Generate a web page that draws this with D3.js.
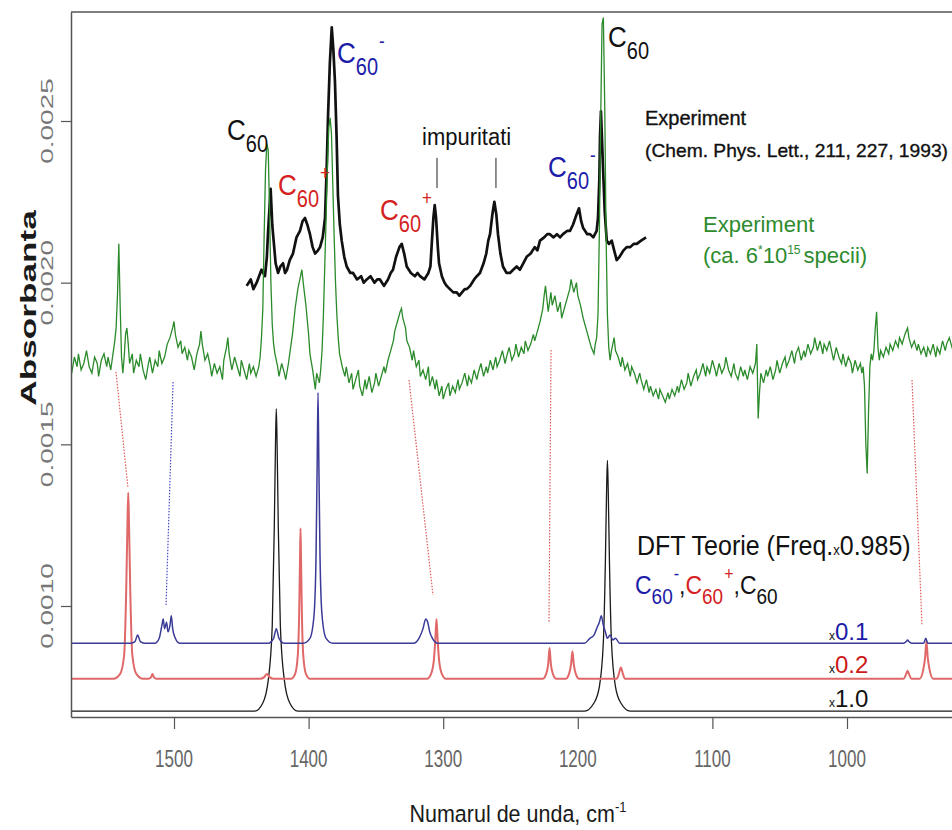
<!DOCTYPE html>
<html><head><meta charset="utf-8">
<script src="https://cdn.jsdelivr.net/npm/d3@7"></script>
<style>body{margin:0;background:#fff}text{font-family:"Liberation Sans",Arial,sans-serif}</style>
</head><body><svg id="c" width="952" height="830"></svg>
<script>
// ---------- data ----------
const xTicks = [1500, 1400, 1300, 1200, 1100, 1000];
const yTicks = [0.0010, 0.0015, 0.0020, 0.0025];

// experiment (green, ca. 6*10^15 species): [wavenumber, absorbance]
const expGreen = [
[1576,.00172],[1574,.00177],[1572,.00174],[1571,.00178],[1569,.00173],[1567,.00175],[1565,.00179],[1563,.00174],[1561,.00172],[1559,.00177],
[1557,.00175],[1556,.00171],[1554,.00176],[1552,.00178],[1550,.00174],[1549,.00177],[1547,.00173],[1546,.00176],[1545,.00179],[1544,.00182],
[1543,.00186],[1542,.00196],[1541,.00212],[1540,.00193],[1539,.00177],[1538,.00172],[1537,.00177],[1536,.00184],[1535,.00186],[1534,.00181],
[1533,.00175],[1531,.00178],[1530,.00172],[1528,.00176],[1526,.00174],[1525,.00178],[1523,.00173],[1521,.00170],[1519,.00175],[1518,.00177],
[1516,.00172],[1514,.00176],[1512,.00174],[1511,.00179],[1509,.00175],[1507,.00177],[1505,.00181],[1503,.00183],[1501,.00186],[1500,.00188],
[1499,.00184],[1497,.00180],[1495,.00182],[1494,.00178],[1492,.00180],[1490,.00176],[1489,.00179],[1487,.00177],[1485,.00173],[1483,.00178],
[1481,.00181],[1480,.00185],[1479,.00181],[1477,.00176],[1475,.00178],[1473,.00174],[1472,.00171],[1470,.00175],[1468,.00172],[1466,.00174],
[1464,.00170],[1463,.00176],[1461,.00180],[1460,.00183],[1459,.00178],[1457,.00173],[1455,.00177],[1453,.00174],[1451,.00171],[1450,.00176],
[1448,.00173],[1446,.00170],[1444,.00175],[1443,.00172],[1441,.00174],[1439,.00171],[1437,.00174],[1436,.00177],[1435,.00183],[1434,.00192],
[1433,.00215],[1432,.00235],[1431,.00243],[1430,.00241],[1429,.00222],[1428,.00200],[1427,.00187],[1426,.00181],[1425,.00178],[1423,.00174],
[1422,.00171],[1420,.00175],[1418,.00172],[1417,.00170],[1415,.00175],[1414,.00178],[1412,.00184],[1410,.00192],[1408,.00198],[1406,.00202],
[1405,.00204],[1404,.00200],[1402,.00193],[1400,.00184],[1399,.00178],[1397,.00173],[1396,.00170],[1395,.00167],[1394,.00172],[1392,.00169],
[1391,.00173],[1390,.00179],[1389,.00190],[1388,.00205],[1387,.00220],[1386,.00236],[1385,.00248],[1384,.00251],[1383,.00246],[1382,.00230],
[1381,.00214],[1380,.00200],[1379,.00190],[1378,.00183],[1377,.00178],[1375,.00174],[1373,.00171],[1372,.00174],[1370,.00169],[1368,.00172],
[1367,.00167],[1365,.00170],[1363,.00173],[1362,.00168],[1360,.00165],[1358,.00170],[1357,.00167],[1355,.00171],[1353,.00166],[1351,.00169],
[1350,.00172],[1348,.00168],[1346,.00171],[1344,.00174],[1343,.00172],[1341,.00176],[1339,.00179],[1337,.00182],[1336,.00185],[1334,.00188],
[1332,.00191],[1331,.00192],[1330,.00189],[1328,.00186],[1327,.00182],[1325,.00180],[1323,.00176],[1322,.00179],[1320,.00174],[1318,.00176],
[1317,.00171],[1315,.00173],[1313,.00170],[1311,.00174],[1310,.00168],[1308,.00171],[1306,.00167],[1305,.00170],[1303,.00165],[1301,.00168],
[1300,.00164],[1298,.00167],[1296,.00169],[1295,.00165],[1293,.00168],[1291,.00166],[1289,.00170],[1288,.00167],[1286,.00169],[1284,.00172],
[1282,.00168],[1281,.00171],[1279,.00169],[1277,.00173],[1275,.00170],[1274,.00172],[1272,.00175],[1270,.00171],[1268,.00174],[1267,.00172],
[1265,.00176],[1263,.00173],[1261,.00177],[1260,.00174],[1258,.00176],[1256,.00179],[1254,.00175],[1253,.00177],[1251,.00180],[1249,.00176],
[1247,.00178],[1246,.00181],[1244,.00177],[1242,.00180],[1240,.00178],[1239,.00182],[1237,.00179],[1235,.00181],[1233,.00184],[1232,.00182],
[1230,.00185],[1228,.00188],[1226,.00192],[1225,.00196],[1224,.00199],[1223,.00195],[1222,.00191],[1220,.00197],[1219,.00193],[1217,.00196],
[1215,.00191],[1213,.00194],[1212,.00189],[1210,.00192],[1208,.00195],[1206,.00198],[1205,.00201],[1203,.00197],[1201,.00200],[1200,.00196],
[1198,.00193],[1196,.00189],[1194,.00186],[1192,.00183],[1190,.00180],[1188,.00178],[1187,.00181],[1186,.00183],[1185,.00190],[1184,.00215],
[1183,.00250],[1182,.00280],[1181,.00282],[1180,.00255],[1179,.00215],[1178,.00190],[1177,.00180],[1176,.00176],[1175,.00179],[1174,.00181],
[1173,.00183],[1172,.00179],[1170,.00177],[1168,.00174],[1167,.00177],[1165,.00173],[1163,.00175],[1161,.00171],[1160,.00174],[1158,.00172],
[1156,.00169],[1154,.00172],[1153,.00170],[1151,.00167],[1149,.00170],[1147,.00166],[1146,.00168],[1144,.00165],[1142,.00167],[1140,.00164],
[1139,.00167],[1137,.00165],[1135,.00163],[1133,.00166],[1132,.00164],[1130,.00167],[1128,.00165],[1126,.00168],[1125,.00166],[1123,.00170],
[1121,.00167],[1119,.00169],[1118,.00172],[1116,.00168],[1114,.00171],[1112,.00173],[1111,.00170],[1109,.00172],[1107,.00175],[1105,.00171],
[1104,.00174],[1102,.00172],[1100,.00176],[1098,.00173],[1097,.00171],[1095,.00175],[1093,.00172],[1091,.00174],[1090,.00177],[1088,.00173],
[1086,.00171],[1084,.00175],[1083,.00172],[1081,.00170],[1079,.00174],[1077,.00171],[1076,.00173],[1074,.00170],[1072,.00174],[1070,.00172],
[1068,.00175],[1067,.00181],[1066,.00158],[1065,.00166],[1064,.00172],[1062,.00169],[1060,.00173],[1059,.00171],[1057,.00174],[1055,.00170],
[1053,.00173],[1052,.00176],[1050,.00172],[1048,.00175],[1046,.00177],[1045,.00174],[1043,.00176],[1041,.00179],[1039,.00175],[1038,.00178],
[1036,.00180],[1034,.00176],[1032,.00179],[1031,.00177],[1029,.00181],[1027,.00178],[1025,.00180],[1024,.00183],[1022,.00179],[1020,.00182],
[1018,.00178],[1017,.00181],[1015,.00179],[1013,.00182],[1011,.00178],[1010,.00176],[1008,.00180],[1006,.00177],[1004,.00175],[1003,.00178],
[1001,.00174],[999,.00177],[997,.00175],[996,.00172],[994,.00176],[992,.00173],[990,.00175],[989,.00172],[988,.00174],[987,.00168],
[986,.00150],[985,.00141],[984,.00160],[983,.00174],[982,.00178],[981,.00176],[980,.00179],[979,.00186],[978,.00191],[977,.00180],
[976,.00176],[975,.00179],[973,.00177],[971,.00180],[969,.00178],[968,.00181],[966,.00179],[964,.00182],[962,.00180],[961,.00183],
[959,.00181],[957,.00184],[955,.00186],[954,.00183],[952,.00180],[950,.00182],[948,.00179],[947,.00181],[945,.00178],[943,.00180],
[941,.00177],[940,.00180],[938,.00178],[936,.00181],[934,.00177],[933,.00180],[931,.00178],[929,.00182],[927,.00179],[926,.00181],
[924,.00183],[922,.00180],[920,.00182]
];

// experiment (black, Chem. Phys. Lett. 211, 227, 1993)
const expBlack = [
[1446,.00199],[1443,.00201],[1441,.00198],[1438.6,.00200],[1435,.00204],[1432.4,.00202],[1431,.00208],[1430.2,.00215],[1428.2,.00229],[1427,.00218],
[1426.4,.00215],[1424.5,.00206],[1422.7,.00203],[1421,.00205],[1419,.00206],[1417.5,.00203],[1416,.00204],[1414,.00207],[1411.6,.00209],[1409,.00214],
[1406.4,.00216],[1404.5,.00219],[1402.7,.00220],[1401,.00218],[1399,.00215],[1397,.00211],[1395.2,.00209],[1393,.00210],[1391.5,.00211],[1389.5,.00214],
[1387.8,.00220],[1386.6,.00235],[1385.6,.00251],[1384.2,.00268],[1382.8,.00279],[1381.6,.00272],[1380.4,.00262],[1379.2,.00245],[1378.2,.00227],[1376.8,.00218],
[1375.4,.00213],[1373.5,.00208],[1371.7,.00205],[1369,.00203],[1367,.00203],[1364,.00201],[1361,.00202],[1359,.00200],[1356.8,.00201],[1354,.00202],
[1351,.00200],[1349,.00201],[1347,.00201],[1344,.00199],[1341,.00201],[1339,.00203],[1337.3,.00204],[1335,.00208],[1332.5,.00211],[1330.8,.00212],
[1329,.00209],[1327.1,.00205],[1324,.00203],[1321,.00202],[1319,.00203],[1317.2,.00202],[1314,.00201],[1311,.00203],[1309.5,.00205],[1308.5,.00212],
[1307.3,.00220],[1306.3,.00224],[1305.3,.00220],[1304,.00211],[1303.1,.00206],[1301,.00202],[1299,.00200],[1297.4,.00199],[1295,.00198],[1292.5,.00197],
[1290,.00197],[1288,.00196],[1286,.00197],[1284,.00198],[1282.5,.00198],[1280,.00199],[1277,.00201],[1275,.00202],[1272.7,.00203],[1270,.00206],
[1268,.00209],[1266.5,.00213],[1265.2,.00215],[1263.5,.00221],[1262,.00225],[1260.5,.00221],[1259.3,.00215],[1257.5,.00209],[1255.6,.00205],[1253,.00203],
[1250.4,.00203],[1248,.00204],[1245.4,.00205],[1243,.00204],[1240.5,.00206],[1238,.00208],[1235,.00209],[1232,.00211],[1230,.00210],[1228.1,.00213],
[1225,.00214],[1222.7,.00215],[1220.7,.00215],[1218,.00214],[1215.5,.00215],[1213.2,.00214],[1211,.00215],[1208,.00216],[1205.8,.00216],[1203.5,.00218],
[1201,.00221],[1199.1,.00223],[1197.5,.00219],[1196.1,.00217],[1193,.00215],[1190.9,.00215],[1188.5,.00214],[1186,.00216],[1185,.00220],[1184,.00232],
[1183.5,.00245],[1182.8,.00253],[1182,.00244],[1181.3,.00236],[1180,.00222],[1178.5,.00213],[1176.8,.00212],[1174.8,.00213],[1173,.00210],[1171.1,.00207],
[1169,.00208],[1166,.00210],[1163.7,.00211],[1161,.00211],[1158.5,.00212],[1156.2,.00212],[1153,.00213],[1149.3,.00214]
];

// DFT theory (freq x 0.985): C60 (x1.0), C60- (x0.1), C60+ (x0.2)
const dftC60 = [
[1577,.000675],[1440,.000675],[1434,.00070],[1430,.00077],[1427,.00094],[1425.5,.00124],[1424.6,.00150],[1424,.00161],[1423.4,.00150],[1422.5,.00124],
[1421,.00094],[1418,.00077],[1414,.00070],[1408,.000675],[1195,.000675],[1188,.00070],[1184,.00075],[1181,.00089],[1179.5,.00114],[1178.6,.00136],
[1178,.00145],[1177.4,.00136],[1176.5,.00114],[1175,.00089],[1172,.00075],[1168,.00070],[1161,.000675],[920,.000675]
];
const dftAnion = [
[1577,.000885],[1532,.000885],[1529,.00089],[1527,.00091],[1525,.00089],[1522,.000885],[1514,.000885],[1511,.0009],[1509,.00094],[1508,.00096],
[1507,.00093],[1505.5,.00095],[1504.5,.00092],[1503,.00094],[1502,.00097],[1501,.00093],[1499,.0009],[1496,.000885],[1430,.000885],[1426,.0009],
[1424,.00093],[1422,.0009],[1418,.000885],[1404,.000885],[1399,.0009],[1396,.00097],[1394.5,.00115],[1393.6,.00145],[1393,.00166],[1392.4,.00145],
[1391.5,.00115],[1390,.00097],[1387,.0009],[1382,.000885],[1322,.000885],[1318,.0009],[1315,.00093],[1313,.00096],[1311.5,.00095],[1310,.00092],
[1308,.0009],[1304,.000885],[1195,.000885],[1191,.0009],[1188,.00091],[1186,.00093],[1184,.00095],[1182.5,.00097],[1181,.00094],[1179.5,.00092],
[1178,.0009],[1176,.00091],[1174,.000895],[1172,.0009],[1169,.000885],[958,.000885],[956,.00089],[955,.000895],[954,.00089],[952,.000885],
[943,.000885],[941.5,.0009],[940,.000885],[920,.000885]
];
const dftCation = [
[1577,.000775],[1545,.000775],[1540,.00079],[1537,.00085],[1535.5,.00105],[1534.6,.00125],[1534,.00135],[1533.4,.00125],[1532.5,.00105],[1531,.00085],
[1528,.00079],[1523,.000775],[1519,.000775],[1517,.00078],[1516,.00079],[1515,.00078],[1513,.000775],[1436,.000775],[1433,.00078],[1431,.00079],
[1429,.00078],[1426,.000775],[1413,.000775],[1410,.00079],[1408,.00085],[1407,.00098],[1406.4,.00114],[1406,.00124],[1405.6,.00114],[1405,.00098],
[1404,.00085],[1402,.00079],[1399,.000775],[1312,.000775],[1309,.00079],[1307,.00083],[1305.8,.0009],[1305,.00096],[1304.2,.0009],[1303,.00083],
[1301,.00079],[1298,.000775],[1226,.000775],[1223.5,.00079],[1222,.00082],[1221,.00087],[1220,.00082],[1218.5,.00079],[1216,.000775],[1209,.000775],
[1206.5,.00079],[1205,.00082],[1204,.00086],[1203,.00082],[1201.5,.00079],[1199,.000775],[1171,.000775],[1169.5,.00079],[1168,.00081],[1166.5,.00079],
[1165,.000775],[958,.000775],[956,.00079],[955,.0008],[954,.00079],[952,.000775],[946,.000775],[943.5,.00080],[942,.00084],[941,.00089],
[940,.00084],[938.5,.0008],[936,.000775],[920,.000775]
];

// dotted assignment connectors: [from wn, from abs, to wn, to abs, colour]
const connectors = [
[1543.1,.001724,1534.2,.001365,"#e05a5a"],
[1500.7,.001693,1505.9,.001003,"#4a4ac0"],
[1325.4,.001699,1307.6,.001034,"#e05a5a"],
[1219.9,.001792,1221.4,.00095,"#e05a5a"],
[951.7,.001699,944.3,.000941,"#e05a5a"]
];
// impurity marker lines: [wn, abs top, abs bottom]
const impurityMarks = [[1304.6,.002386,.002293],[1260.8,.002386,.002293]];

// ---------- chart ----------
const svg = d3.select("#c");
const L = 71, T = 12, B = 717, R = 952;
const x0 = d3.scaleLinear().domain([1500, 1000]).range([174, 847]);
const y0 = d3.scaleLinear().domain([0.0010, 0.0025]).range([606, 121]);
const x = d3.scaleLinear().domain([x0.invert(L), x0.invert(R)]).range([L, R]);
const y = d3.scaleLinear().domain([y0.invert(B), y0.invert(T)]).range([B, T]);

svg.append("defs").append("clipPath").attr("id","pc")
  .append("rect").attr("x",L).attr("y",T).attr("width",R-L).attr("height",B-T);

const plot = svg.append("g").attr("clip-path","url(#pc)");
const line = d3.line().x(d=>x(d[0])).y(d=>y(d[1]));
const smooth = d3.line().x(d=>x(d[0])).y(d=>y(d[1])).curve(d3.curveMonotoneX);

plot.selectAll("line.conn").data(connectors).join("line").attr("class","conn")
  .attr("x1",d=>x(d[0])).attr("y1",d=>y(d[1])).attr("x2",d=>x(d[2])).attr("y2",d=>y(d[3]))
  .attr("stroke",d=>d[4]).attr("stroke-width",1.2).attr("stroke-dasharray","1.5,1.5");

plot.append("path").datum(dftC60).attr("d",smooth).attr("fill","none").attr("stroke","#1a1a1a").attr("stroke-width",1.3);
plot.append("path").datum(dftCation).attr("d",smooth).attr("fill","none").attr("stroke","#e06868").attr("stroke-width",2);
plot.append("path").datum(dftAnion).attr("d",smooth).attr("fill","none").attr("stroke","#3a3a98").attr("stroke-width",1.5);

plot.append("path").datum(expBlack).attr("d",line).attr("fill","none").attr("stroke","#111").attr("stroke-width",2.7).attr("stroke-linejoin","round");
plot.append("path").datum(expGreen).attr("d",line).attr("fill","none").attr("stroke","#2b8a2b").attr("stroke-width",1.3);

plot.selectAll("line.imp").data(impurityMarks).join("line").attr("class","imp")
  .attr("x1",d=>x(d[0])).attr("x2",d=>x(d[0])).attr("y1",d=>y(d[1])).attr("y2",d=>y(d[2]))
  .attr("stroke","#222").attr("stroke-width",1);

svg.append("line").attr("x1",L).attr("x2",R).attr("y1",T).attr("y2",T).attr("stroke","#555").attr("stroke-width",1.5);

const gx = svg.append("g").attr("transform",`translate(0,${B})`)
  .call(d3.axisBottom(x).tickValues(xTicks).tickSize(12).tickSizeOuter(0).tickFormat(""));
const gy = svg.append("g").attr("transform",`translate(${L},0)`)
  .call(d3.axisLeft(y).tickValues(yTicks).tickSize(10).tickSizeOuter(0).tickFormat(""));
[gx,gy].forEach(g=>{g.select(".domain").attr("stroke","#555").attr("stroke-width",1.5);
  g.selectAll(".tick line").attr("stroke","#555").attr("stroke-width",1.2);});

// tick labels (vertically stretched, as in the reference)
svg.append("g").selectAll("text").data(xTicks).join("text")
  .attr("transform",d=>`translate(${x(d)},${B+50}) scale(1,1.4)`)
  .attr("text-anchor","middle").attr("font-size",17).attr("fill","#666").text(d=>d);
svg.append("g").selectAll("text").data(yTicks).join("text")
  .attr("transform",d=>`translate(53,${y(d)}) rotate(-90) scale(1.75,1)`)
  .attr("text-anchor","middle").attr("font-size",16).attr("fill","#777").text(d=>d.toFixed(4));

// axis titles
svg.append("text").attr("transform","translate(36,308) rotate(-90) scale(1.6,1)")
  .attr("text-anchor","middle").attr("font-size",22).attr("font-weight","bold").attr("fill","#1a1a1a").text("Absorbanta");
const xt = svg.append("text").attr("transform","translate(518,822) scale(1,1.12)")
  .attr("text-anchor","middle").attr("font-size",21.5).attr("fill","#1a1a1a");
xt.append("tspan").text("Numarul de unda, cm");
xt.append("tspan").attr("font-size",13).attr("dy",-9).text("-1");

// species labels
function chem(px, py, color, charge, big, small, sy){
  const t = svg.append("text").attr("transform",`translate(${px},${py}) scale(1,${sy||1.15})`).attr("fill",color);
  t.append("tspan").attr("font-size",big).text("C");
  t.append("tspan").attr("font-size",small).attr("dy",small*0.5).text("60");
  if(charge) t.append("tspan").attr("font-size",small*0.85).attr("dy",-small*1.15).attr("dx",1).text(charge);
  return t;
}
const BLUE="#1c1ca8", RED="#d42222", BLK="#111";
chem(227,140,BLK,null,26,20);
chem(278,195,RED,"+",26,20);
chem(337,63,BLUE,"-",26,20);
chem(380,220,RED,"+",26,20);
chem(548,177,BLUE,"-",26,20);
chem(608,47,BLK,null,26,20);

svg.append("text").attr("transform","translate(422,145) scale(1,1.1)").attr("font-size",22).attr("fill","#111").text("impuritati");

// experiment legends
svg.append("text").attr("x",645).attr("y",125).attr("font-size",20).attr("fill","#111").attr("stroke","#111").attr("stroke-width",0.35).text("Experiment");
svg.append("text").attr("x",645).attr("y",157).attr("font-size",19).attr("textLength",303).attr("lengthAdjust","spacingAndGlyphs")
  .attr("fill","#111").attr("stroke","#111").attr("stroke-width",0.35).text("(Chem. Phys. Lett., 211, 227, 1993)");
const GREEN="#2e8b2e";
svg.append("text").attr("x",703).attr("y",232).attr("font-size",22).attr("fill",GREEN).text("Experiment");
const g2 = svg.append("text").attr("x",703).attr("y",263).attr("font-size",22).attr("fill",GREEN);
g2.append("tspan").text("(ca. 6");
g2.append("tspan").attr("font-size",12).attr("dy",-9).text("*");
g2.append("tspan").attr("dy",9).text("10");
g2.append("tspan").attr("font-size",12).attr("dy",-9).text("15");
g2.append("tspan").attr("dy",9).attr("dx",3).text("specii)");

// DFT legend
const dl = svg.append("text").attr("transform","translate(637,555) scale(1,1.1)").attr("font-size",25).attr("fill","#111");
dl.append("tspan").text("DFT Teorie (Freq.");
dl.append("tspan").attr("font-size",13).text("x");
dl.append("tspan").text("0.985)");

function chemInline(t, color, charge){
  t.append("tspan").attr("fill",color).attr("font-size",23).text("C");
  t.append("tspan").attr("fill",color).attr("font-size",19).attr("dy",9).text("60");
  if(charge) t.append("tspan").attr("fill",color).attr("font-size",16).attr("dy",-21).attr("dx",1).text(charge);
}
const sp = svg.append("text").attr("transform","translate(635,594) scale(1,1.15)");
chemInline(sp, BLUE, "-");
sp.append("tspan").attr("fill","#111").attr("font-size",23).attr("dy",12).text(",");
chemInline(sp, RED, "+");
sp.append("tspan").attr("fill","#111").attr("font-size",23).attr("dy",12).text(",");
chemInline(sp, BLK, null);

// scale factors
function scaleLbl(py, color, txt){
  const t = svg.append("text").attr("x",829).attr("y",py).attr("fill",color);
  t.append("tspan").attr("font-size",12).attr("fill","#111").text("x");
  t.append("tspan").attr("font-size",24).text(txt);
}
scaleLbl(640, "#1c1ca8", "0.1");
scaleLbl(673, "#cc1a1a", "0.2");
scaleLbl(707, "#111", "1.0");
</script></body></html>
